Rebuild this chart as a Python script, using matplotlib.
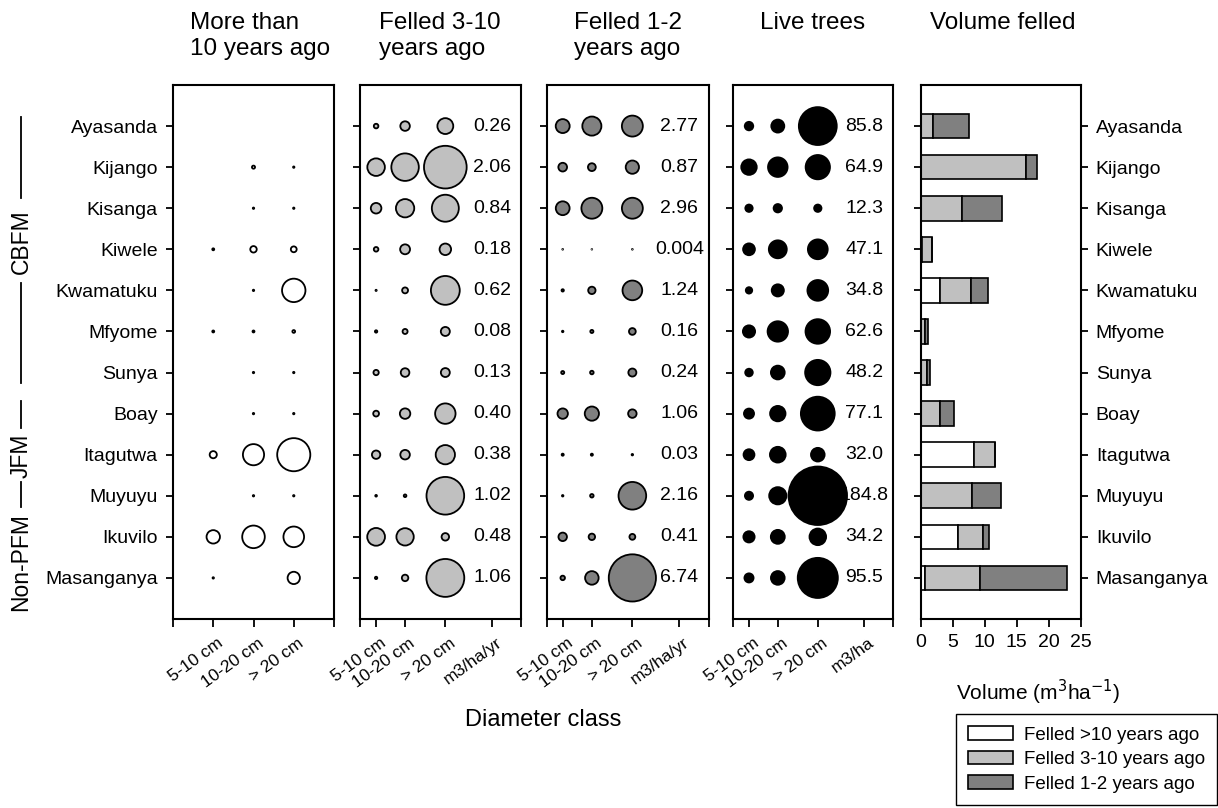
import numpy as np
import matplotlib
matplotlib.use('Agg')
import matplotlib.pyplot as plt
import matplotlib.transforms as mtransforms
from matplotlib.lines import Line2D

plt.rcParams['font.family'] = ['Liberation Sans', 'DejaVu Sans']

# Sites, top to bottom
sites = ['Ayasanda', 'Kijango', 'Kisanga', 'Kiwele', 'Kwamatuku', 'Mfyome',
         'Sunya', 'Boay', 'Itagutwa', 'Muyuyu', 'Ikuvilo', 'Masanganya']
classes = ['5-10 cm', '10-20 cm', '> 20 cm']

# Stumps felled more than 10 years ago (m3/ha), per diameter class
old_felled = np.array([
    [0.0, 0.0, 0.0],
    [0.0, 0.05, 0.01],
    [0.0, 0.01, 0.01],
    [0.02, 0.22, 0.18],
    [0.0, 0.01, 2.9],
    [0.02, 0.02, 0.04],
    [0.0, 0.01, 0.01],
    [0.0, 0.01, 0.01],
    [0.27, 2.37, 5.8],
    [0.0, 0.01, 0.01],
    [0.95, 2.7, 2.25],
    [0.01, 0.0, 0.8],
])

# Felled 3-10 years ago (m3/ha/yr)
mid_felled = np.array([
    [0.015, 0.065, 0.18],
    [0.22, 0.54, 1.30],
    [0.08, 0.24, 0.52],
    [0.015, 0.07, 0.095],
    [0.001, 0.025, 0.594],
    [0.004, 0.018, 0.058],
    [0.02, 0.053, 0.057],
    [0.024, 0.078, 0.298],
    [0.05, 0.065, 0.265],
    [0.002, 0.005, 1.013],
    [0.225, 0.215, 0.04],
    [0.004, 0.03, 1.026],
])
mid_totals = ['0.26', '2.06', '0.84', '0.18', '0.62', '0.08',
              '0.13', '0.40', '0.38', '1.02', '0.48', '1.06']

# Felled 1-2 years ago (m3/ha/yr)
recent_felled = np.array([
    [0.54, 1.01, 1.22],
    [0.21, 0.17, 0.49],
    [0.53, 1.215, 1.215],
    [0.0015, 0.001, 0.0015],
    [0.015, 0.15, 1.075],
    [0.006, 0.027, 0.127],
    [0.026, 0.035, 0.179],
    [0.30, 0.56, 0.20],
    [0.012, 0.012, 0.006],
    [0.006, 0.034, 2.12],
    [0.20, 0.115, 0.095],
    [0.056, 0.51, 6.174],
])
recent_totals = ['2.77', '0.87', '2.96', '0.004', '1.24', '0.16',
                 '0.24', '1.06', '0.03', '2.16', '0.41', '6.74']

# Live trees (m3/ha)
live_trees = np.array([
    [4.8, 9.9, 71.1],
    [13.5, 20.6, 30.8],
    [3.8, 4.7, 3.8],
    [8.4, 17.6, 21.1],
    [3.05, 8.8, 22.95],
    [8.9, 22.3, 31.4],
    [4.0, 11.0, 33.2],
    [6.4, 13.4, 57.3],
    [7.3, 13.9, 10.8],
    [4.5, 16.4, 163.9],
    [7.7, 11.2, 15.3],
    [5.4, 10.9, 79.2],
])
live_totals = ['85.8', '64.9', '12.3', '47.1', '34.8', '62.6',
               '48.2', '77.1', '32.0', '184.8', '34.2', '95.5']

# Volume felled (m3/ha) stacked by felling period
vol_old = [0.0, 0.03, 0.01, 0.3, 3.0, 0.05, 0.01, 0.01, 8.4, 0.01, 5.9, 0.72]
vol_mid = [1.9, 16.4, 6.5, 1.45, 4.9, 0.6, 0.95, 3.1, 3.2, 8.1, 3.9, 8.6]
vol_recent = [5.7, 1.8, 6.2, 0.0, 2.7, 0.45, 0.5, 2.2, 0.06, 4.5, 0.9, 13.6]

light = '#c0c0c0'
dark = '#808080'
W, H = 1218, 808
fs = 14

fig = plt.figure(figsize=(W / 100, H / 100), dpi=100)

def box(x0, w):
    return [x0 / W, 1 - 619 / H, w / W, 534 / H]

ypos = np.arange(len(sites)) + 1


def style(ax):
    for sp in ax.spines.values():
        sp.set_linewidth(1.5)
    ax.set_ylim(13, 0)
    ax.set_yticks(ypos)
    ax.tick_params(direction='out', length=5, width=1.3, labelsize=fs)
    ax.tick_params(axis='x', length=6)


def bubbles(ax, data, xs, scale, fill, edge='black', lw=1.3):
    for j in range(data.shape[1]):
        v = data[:, j]
        keep = v > 0
        ax.scatter(np.full(keep.sum(), xs[j]), ypos[keep], s=v[keep] * scale,
                   c=fill, edgecolors=edge, linewidths=lw, zorder=2, clip_on=False)


# panel 1: felled more than 10 years ago
ax1 = fig.add_axes(box(173, 161))
style(ax1)
ax1.set_xlim(0, 4)
bubbles(ax1, old_felled, [1, 2, 3], 98, 'white')
ax1.set_yticklabels(sites)
ax1.tick_params(axis='y', pad=6)
ax1.set_xticks([0, 1, 2, 3, 4])
ax1.set_xticklabels([''] + classes + [''])

# panels 2-4: bubbles with totals
xs = [1.0, 2.8, 5.3, 8.2]
panels = [
    (360, 161, mid_felled, mid_totals, 726, light, 'm3/ha/yr'),
    (546.5, 162, recent_felled, recent_totals, 187, dark, 'm3/ha/yr'),
    (733, 160, live_trees, live_totals, 11.5, 'black', 'm3/ha'),
]
axes = [ax1]
for x0, w, data, totals, scale, fill, unit in panels:
    ax = fig.add_axes(box(x0, w))
    style(ax)
    ax.set_xlim(0, 10)
    if fill == 'black':
        bubbles(ax, data, xs, scale, fill, edge='none', lw=0)
    else:
        bubbles(ax, data, xs, scale, fill)
    for y, t in zip(ypos, totals):
        ax.text(xs[3], y, t, ha='center', va='center', fontsize=fs, zorder=1)
    ax.set_yticklabels([])
    ax.set_xticks([0] + xs + [10])
    ax.set_xticklabels([''] + classes + [unit, ''])
    axes.append(ax)

# slanted class labels, nudged right of their ticks
shift = mtransforms.ScaledTranslation(4 / 100, -3 / 100, fig.dpi_scale_trans)
for ax in axes:
    for lab in ax.get_xticklabels():
        lab.set_rotation(36)
        lab.set_ha('right')
        lab.set_rotation_mode('anchor')
        lab.set_fontsize(12.5)
        lab.set_transform(lab.get_transform() + shift)

# panel 5: stacked volume bars
ax5 = fig.add_axes(box(920.5, 160))
style(ax5)
b1 = ax5.barh(ypos, vol_old, height=0.6, color='white', edgecolor='black', linewidth=1.2)
left = np.array(vol_old)
b2 = ax5.barh(ypos, vol_mid, left=left, height=0.6, color=light, edgecolor='black', linewidth=1.2)
left = left + np.array(vol_mid)
b3 = ax5.barh(ypos, vol_recent, left=left, height=0.6, color=dark, edgecolor='black', linewidth=1.2)
ax5.set_xlim(0, 25)
ax5.set_xticks([0, 5, 10, 15, 20, 25])
ax5.set_yticklabels(sites)
ax5.tick_params(axis='y', left=True, right=True, labelleft=False, labelright=True, pad=6)
ax5.tick_params(axis='x', labelsize=14, pad=5)

# panel titles
titles = [('More than\n10 years ago', 260), ('Felled 3-10\nyears ago', 440),
          ('Felled 1-2\nyears ago', 627.5), ('Live trees', 813), ('Volume felled', 1003)]
for t, xc in titles:
    fig.text(xc / W, 1 - 12 / H, t, ha='center', va='top', multialignment='left',
             fontsize=17.5, linespacing=1.25)

fig.text(543 / W, 1 - 720 / H, 'Diameter class', ha='center', va='center', fontsize=17)
fig.text(1038 / W, 1 - 692 / H, 'Volume (m$^3$ha$^{-1}$)', ha='center', va='center', fontsize=15)

# management groups along the left edge
gx = 21 / W
for txt, yc in [('CBFM', 242), ('JFM', 456), ('Non-PFM', 562)]:
    fig.text(gx, 1 - yc / H, txt, rotation=90, ha='center', va='center', fontsize=16.5)
for y0, y1 in [(117, 198), (283, 383), (401, 428), (482, 507)]:
    fig.add_artist(Line2D([gx, gx], [1 - y0 / H, 1 - y1 / H], color='black', lw=1.3))

leg = fig.legend([b1, b2, b3], ['Felled >10 years ago', 'Felled 3-10 years ago', 'Felled 1-2 years ago'],
                 loc='upper left', bbox_to_anchor=(956 / W, 1 - 714 / H), borderaxespad=0,
                 fancybox=False, edgecolor='black', framealpha=1, fontsize=13.5,
                 handlelength=2.4, handleheight=0.75, handletextpad=0.55,
                 labelspacing=0.38, borderpad=0.65)
leg.get_frame().set_linewidth(1.0)

fig.savefig('out.png', dpi=100)
